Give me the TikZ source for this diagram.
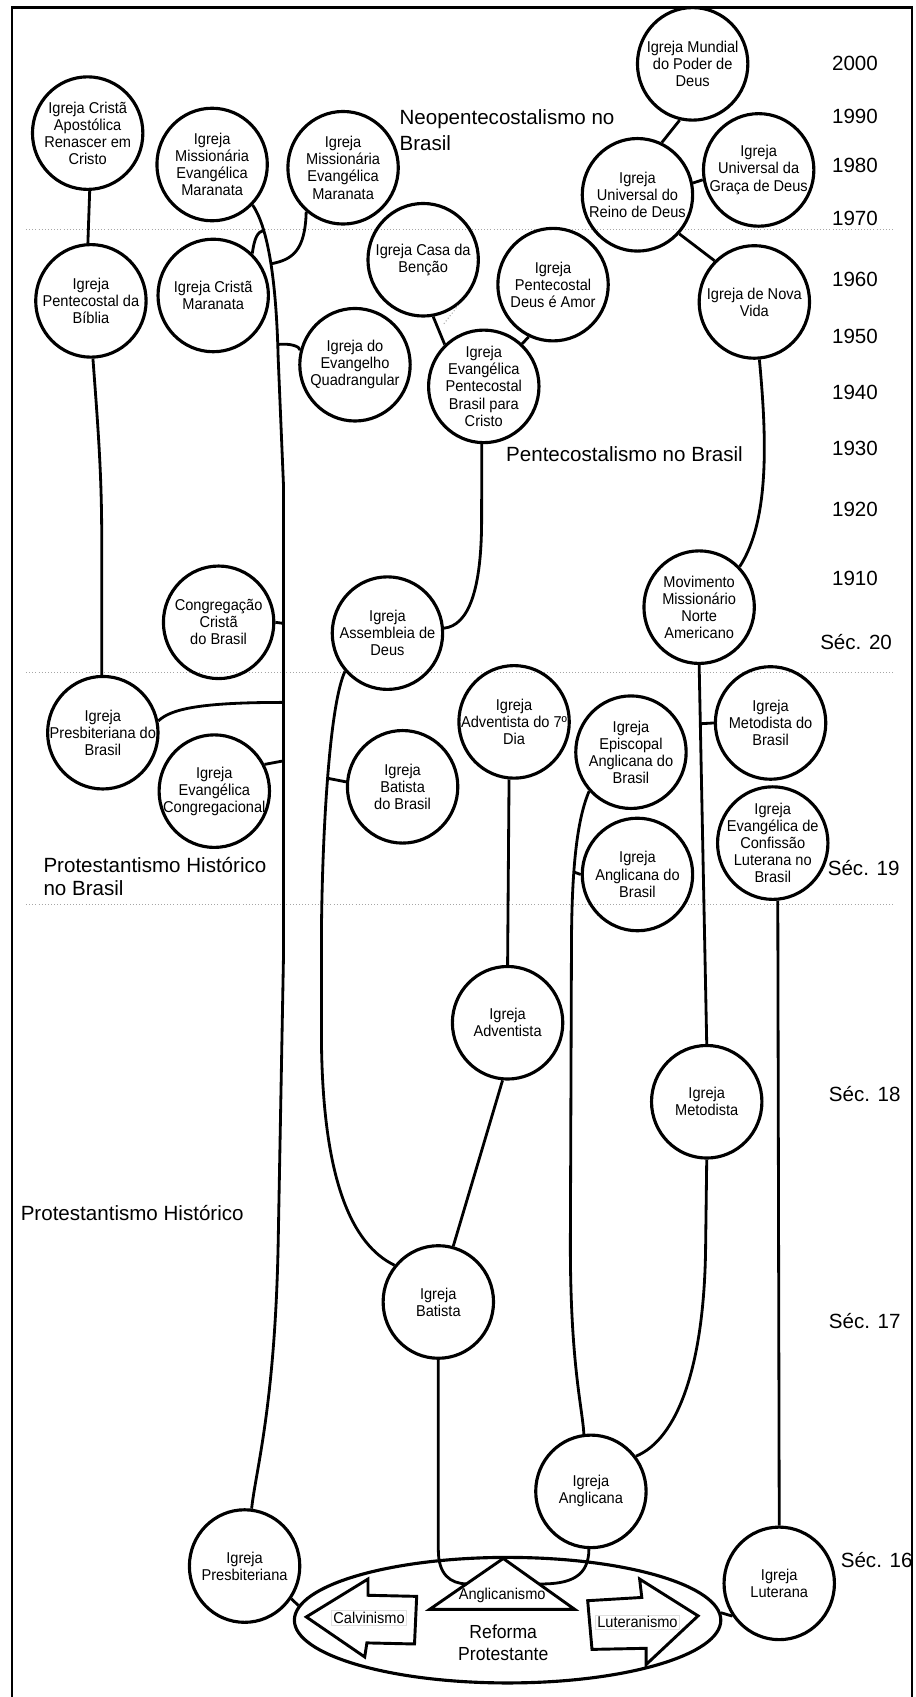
\documentclass[tikz,border=0pt]{standalone}
\usepackage{fontspec}
\setmainfont{Liberation Sans}
\newfontfamily\cf{Liberation Sans}[FakeStretch=0.93]
\usetikzlibrary{shapes.geometric,calc}
\newcommand{\church}[3]{\node[church] (#1) at (#2) {};\node[ctext] (#1t) at (#1.center) {#3};}
\begin{document}
\begin{tikzpicture}[x=1pt,y=-1pt,
  church/.style={draw, ellipse, line width=2.9pt, minimum width=102pt, minimum height=104pt, inner sep=0pt},
  ctext/.style={font=\cf\fontsize{14.5}{15.8}\selectfont, align=center, inner sep=0pt},
  conn/.style={line width=2.6pt},
  faint/.style={gray!60, dotted, line width=1pt},
  lab/.style={font=\fontsize{19}{24}\selectfont, inner sep=0pt},
  yr/.style={font=\fontsize{19}{23}\selectfont, inner sep=0pt},
  sepline/.style={gray!70, dotted, line width=0.9pt},
  shapeln/.style={line width=2.7pt, line join=miter},
  boxtext/.style={font=\cf\fontsize{14.5}{15.8}\selectfont, inner sep=1.5pt, draw=black!12, line width=0.5pt},
  reftext/.style={font=\cf\fontsize{17.5}{20}\selectfont, align=center, inner sep=0pt}]
\useasboundingbox (0,0) rectangle (846,1568);

% frame and period separators
\draw[line width=2pt] (11,1568) -- (11,7) -- (843,7) -- (843,1568);
\draw[sepline] (24,212) -- (825,212);
\draw[sepline] (24,621) -- (825,621);
\draw[sepline] (24,836) -- (825,836);

% churches
\church{mundial}{640,59}{Igreja Mundial\\do Poder de\\Deus}
\church{renascer}{81,123}{Igreja Cristã\\Apostólica\\Renascer em\\Cristo}
\church{maraL}{196,152}{Igreja\\Missionária\\Evangélica\\Maranata}
\church{maraR}{317,155}{Igreja\\Missionária\\Evangélica\\Maranata}
\church{univReino}{589,180}{Igreja\\Universal do\\Reino de Deus}
\church{univGraca}{701,157}{Igreja\\Universal da\\Graça de Deus}
\church{biblia}{84,278}{Igreja\\Pentecostal da\\Bíblia}
\church{cristaMar}{197,273}{Igreja Cristã\\Maranata}
\church{casa}{391,240}{Igreja Casa da\\Benção}
\church{deusAmor}{511,263}{Igreja\\Pentecostal\\Deus é Amor}
\church{novaVida}{697,279}{Igreja de Nova\\Vida}
\church{quadr}{328,337}{Igreja do\\Evangelho\\Quadrangular}
\church{bpc}{447,357}{Igreja\\Evangélica\\Pentecostal\\Brasil para\\Cristo}
\church{ccb}{202,575}{Congregação\\Cristã\\do Brasil}
\church{assembleia}{358,585}{Igreja\\Assembleia de\\Deus}
\church{movimento}{646,561}{Movimento\\Missionário\\Norte\\Americano}
\church{presbBR}{95,677}{Igreja\\Presbiteriana do\\Brasil}
\church{evCongr}{198,731}{Igreja\\Evangélica\\Congregacional}
\church{batistaBR}{372,727}{Igreja\\Batista\\do Brasil}
\church{adv7}{475,667}{Igreja\\Adventista do 7º\\Dia}
\church{episcopal}{583,695}{Igreja\\Episcopal\\Anglicana do\\Brasil}
\church{metodBR}{712,668}{Igreja\\Metodista do\\Brasil}
\church{luteranaBR}{714,779}{Igreja\\Evangélica de\\Confissão\\Luterana no\\Brasil}
\church{anglicanaBR}{589,808}{Igreja\\Anglicana do\\Brasil}
\church{adventista}{469,945}{Igreja\\Adventista}
\church{metodista}{653,1018}{Igreja\\Metodista}
\church{batista}{405,1203}{Igreja\\Batista}
\church{anglicana}{546,1378}{Igreja\\Anglicana}
\church{presbiteriana}{226,1447}{Igreja\\Presbiteriana}
\church{luterana}{720,1463}{Igreja\\Luterana}

% Reforma Protestante
\node[draw, ellipse, line width=2.9pt, minimum width=394pt, minimum height=116pt, inner sep=0pt] (reforma) at (469,1497) {};
\draw[shapeln] (283,1494) -- (340,1459) -- (340,1474) -- (385,1475) -- (383,1519) -- (339,1518) -- (337,1531) -- cycle;
\node[boxtext] (calv) at (341,1495) {Calvinismo};
\draw[shapeln] (543,1479) -- (593,1476) -- (591,1459) -- (645,1493) -- (597,1538) -- (597,1523) -- (547,1524) -- cycle;
\node[boxtext] (lutism) at (589,1499) {Luteranismo};
\coordinate (tA) at (465,1440);
\coordinate (tBL) at (397,1487);
\coordinate (tBR) at (531,1487);
\draw[shapeln] (tA) -- (tBR) -- (tBL) -- cycle;
\coordinate (tL) at ($(tA)!0.5!(tBL)$);
\coordinate (tR) at ($(tA)!0.5!(tBR)$);
\node[ctext] (anglism) at (464,1474) {Anglicanismo};
\node[reftext] (reft) at (465,1518) {Reforma\\Protestante};

% trunk of historical protestantism
\draw[conn] (maraL.-45) .. controls (246,208) and (255,250) .. (257,330)
   coordinate[pos=0.3] (jCM) coordinate[pos=0.55] (jMR) coordinate[pos=0.95] (jQ)
   -- (262,450) -- (262,880) -- (257,1150) .. controls (254,1300) and (236,1360) .. (presbiteriana.83);
\coordinate (jCCB) at (262,576);
\coordinate (jPB) at (262,649);
\coordinate (jEC) at (262,703);
\draw[conn] (maraR.-130) .. controls (282,232) and (270,240) .. (jMR);
\draw[conn] (cristaMar.47) .. controls (235,220) and (238,214) .. (jCM);
\draw[conn] (jQ) .. controls (268,317) and (277,320) .. (quadr.165);
\draw[conn] (ccb.east) -- (jCCB);
\draw[conn] (presbBR.12) .. controls (158,655) and (185,649) .. (jPB);
\draw[conn] (evCongr.28) -- (jEC);

% left branch
\draw[conn] (renascer.-88) -- (biblia.93);
\draw[conn] (biblia.-88) .. controls (91,400) and (94,440) .. (94,500) -- (presbBR.91);

% neopentecostal / pentecostal
\draw[conn] (mundial.-103) -- (univReino.65);
\draw[conn] (univReino.12) -- (univGraca.190);
\draw[conn] (univReino.-43) -- (novaVida.134);
\draw[conn] (novaVida.-85) .. controls (708,400) and (712,480) .. (movimento.45);
\draw[conn] (casa.-80) -- (bpc.133);
\draw[faint] (casa.-52) -- ++(-14,18);
\draw[conn] (deusAmor.-115) -- (bpc.48);
\draw[conn] (bpc.-92) -- (445,480) .. controls (445,545) and (433,578) .. (assembleia.5);

% baptist / adventist
\draw[conn] (assembleia.222) .. controls (305,650) and (298,760) .. (297,860) coordinate[pos=0.52] (jB)
   -- (297,960) .. controls (298,1090) and (325,1150) .. (batista.140);
\draw[conn] (batistaBR.175) -- (jB);
\draw[conn] (adv7.-95) -- (adventista.north);
\draw[conn] (adventista.-95) -- (batista.75);

% anglican / methodist / lutheran
\draw[conn] (episcopal.223) .. controls (532,760) and (528,810) .. (528,880) coordinate[pos=0.6] (jA)
   -- (527,1150) .. controls (527,1260) and (538,1300) .. (anglicana.97);
\draw[conn] (anglicanaBR.west) -- (jA);
\draw[conn] (movimento.south) -- (metodista.north) coordinate[pos=0.155] (jM);
\draw[conn] (metodBR.west) -- (jM);
\draw[conn] (metodista.-90) -- (652,1150) .. controls (651,1265) and (625,1330) .. (anglicana.38);
\draw[conn] (luteranaBR.-85) -- (luterana.north);

% to the Reformation
\draw[conn] (batista.-90) -- (405,1432) .. controls (405,1455) and (416,1463) .. (tL);
\draw[conn] (anglicana.-92) .. controls (544,1456) and (528,1464) .. (tR);
\draw[conn] (presbiteriana.-35) -- (reforma.176);
\draw[conn] (luterana.-145) -- (reforma.2);

% section labels
\node[lab, anchor=west, align=left] (neo) at (369,120) {Neopentecostalismo no\\Brasil};
\node[lab] (pent) at (577,420) {Pentecostalismo no Brasil};
\node[lab, anchor=west, align=left, font=\fontsize{19}{21.5}\selectfont] (phb) at (40,810) {Protestantismo Histórico\\no Brasil};
\node[lab, anchor=west] (ph) at (19,1121) {Protestantismo Histórico};

% time scale
\node[yr] (y2000) at (790,59) {2000};
\node[yr] (y1990) at (790,108) {1990};
\node[yr] (y1980) at (790,153) {1980};
\node[yr] (y1970) at (790,202) {1970};
\node[yr] (y1960) at (790,258) {1960};
\node[yr] (y1950) at (790,311) {1950};
\node[yr] (y1940) at (790,363) {1940};
\node[yr] (y1930) at (790,414) {1930};
\node[yr] (y1920) at (790,471) {1920};
\node[yr] (y1910) at (790,534) {1910};
\node[yr] (s20) at (791,593) {Séc. 20};
\node[yr] (s19) at (798,802) {Séc. 19};
\node[yr] (s18) at (799,1011) {Séc. 18};
\node[yr] (s17) at (799,1221) {Séc. 17};
\node[yr] (s16) at (810,1441) {Séc. 16};
\end{tikzpicture}
\end{document}
